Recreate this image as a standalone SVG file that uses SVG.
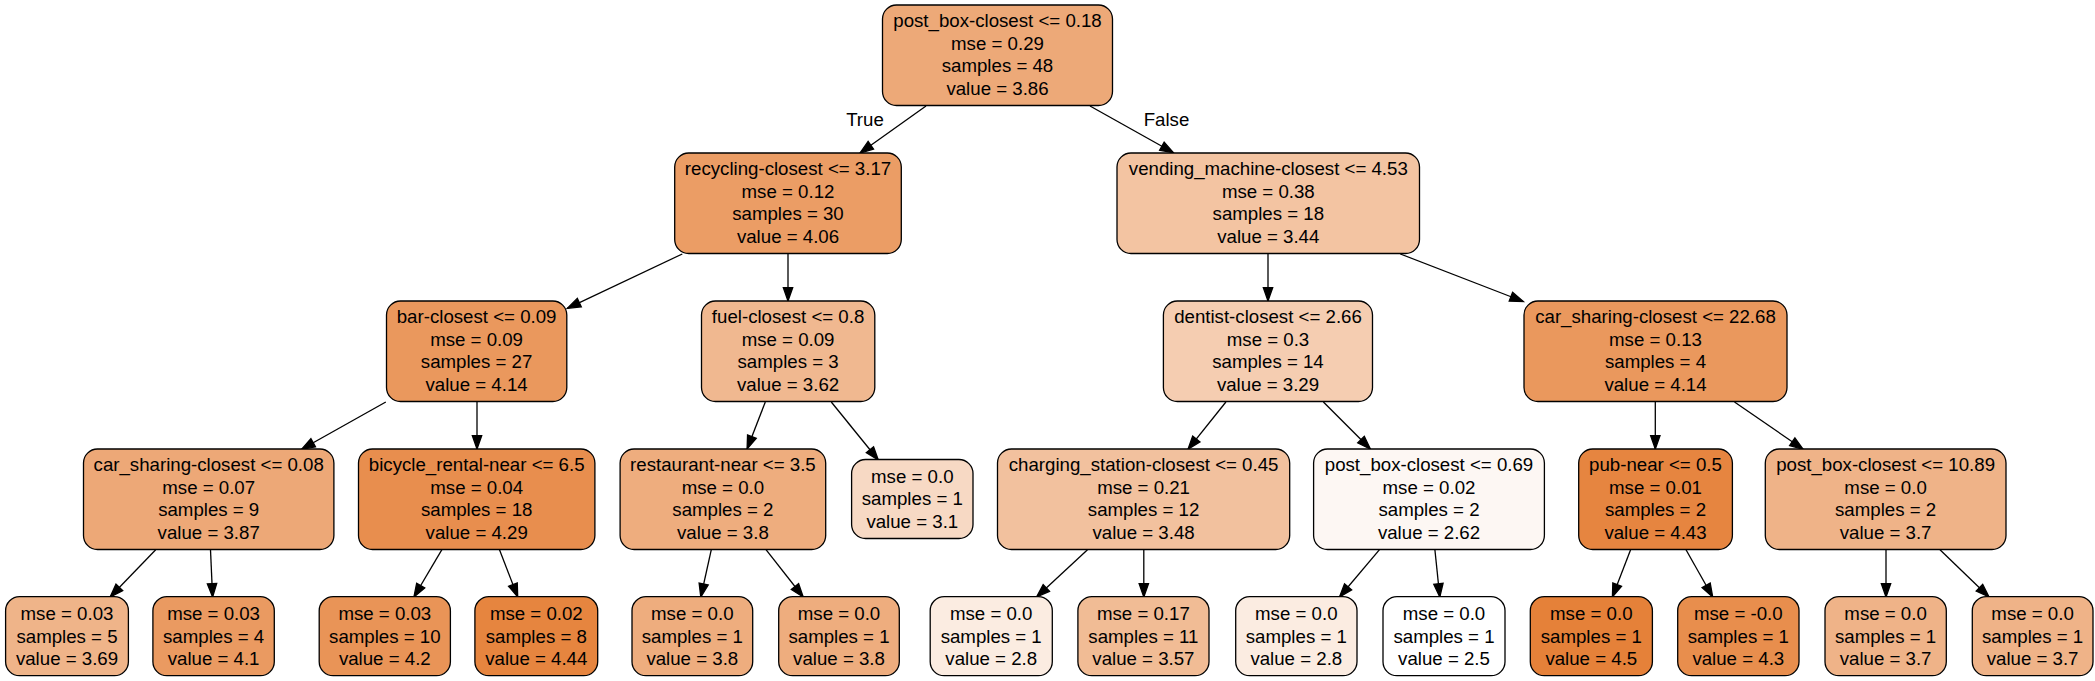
<svg xmlns="http://www.w3.org/2000/svg" width="2095" height="681" viewBox="0 0 2095 681">
<style>
.n rect{stroke:#000;stroke-width:1.3}
text{font-family:"Liberation Sans",Arial,Helvetica,sans-serif;font-size:18.67px;fill:#000;text-anchor:middle}
.e path{stroke:#000;stroke-width:1.3;fill:none;marker-end:url(#ah)}
</style>
<defs>
<marker id="ah" markerUnits="userSpaceOnUse" markerWidth="14" markerHeight="10" refX="13.3" refY="4.67" orient="auto" overflow="visible">
<path d="M0,0 L13.3,4.67 L0,9.34 z" fill="#000" stroke="#000" stroke-width="1.3"/>
</marker>
</defs>
<rect width="2095" height="681" fill="#fff"/>
<g id="connectors" class="e">
<path d="M926,106 L860,153"/>
<path d="M1090,106 L1173.5,152.7"/>
<path d="M682.3,254 L567.3,308.3"/>
<path d="M788,254 L788,301"/>
<path d="M1268,254 L1268,301"/>
<path d="M1400.3,254 L1523.3,301.5"/>
<path d="M385.8,402 L301.6,449.3"/>
<path d="M477,402 L477,449"/>
<path d="M765.3,402 L747.1,449"/>
<path d="M831.3,402 L878.3,460"/>
<path d="M1225.9,402 L1188,449.3"/>
<path d="M1323.4,402 L1370.4,449"/>
<path d="M1655.3,402 L1655.3,449"/>
<path d="M1734.5,402 L1803.2,449.3"/>
<path d="M155.7,549.7 L110.1,597"/>
<path d="M210.5,549.7 L212.6,597"/>
<path d="M441.9,549.7 L413.9,597"/>
<path d="M499.5,549.7 L517.7,597"/>
<path d="M711.3,549.7 L700.8,597"/>
<path d="M766,549.7 L803.2,597"/>
<path d="M1087.5,549.7 L1036.6,597"/>
<path d="M1143.8,549.7 L1143.8,597"/>
<path d="M1379.5,549.7 L1339.5,597"/>
<path d="M1434.9,549.7 L1439.8,597"/>
<path d="M1630.6,549.7 L1612.4,597"/>
<path d="M1686,549.7 L1712.7,597"/>
<path d="M1886,549.7 L1886,597"/>
<path d="M1940,549.7 L1989,597"/>
<text x="865" y="125.7">True</text>
<text x="1166.5" y="125.7">False</text>
</g>
<g id="n0" class="n"><rect x="882.5" y="5" width="230" height="100.5" rx="14" fill="#eda978"/><text x="997.5" y="27">post_box-closest &lt;= 0.18</text><text x="997.5" y="49.5">mse = 0.29</text><text x="997.5" y="72">samples = 48</text><text x="997.5" y="94.5">value = 3.86</text></g>
<g id="n1" class="n"><rect x="674.7" y="153" width="226.6" height="100.5" rx="14" fill="#eb9d65"/><text x="788" y="175">recycling-closest &lt;= 3.17</text><text x="788" y="197.5">mse = 0.12</text><text x="788" y="220">samples = 30</text><text x="788" y="242.5">value = 4.06</text></g>
<g id="n2" class="n"><rect x="1117" y="153" width="302.5" height="100.5" rx="14" fill="#f3c4a2"/><text x="1268.3" y="175">vending_machine-closest &lt;= 4.53</text><text x="1268.3" y="197.5">mse = 0.38</text><text x="1268.3" y="220">samples = 18</text><text x="1268.3" y="242.5">value = 3.44</text></g>
<g id="n3" class="n"><rect x="386.5" y="301" width="180.3" height="100.5" rx="14" fill="#ea985d"/><text x="476.6" y="323">bar-closest &lt;= 0.09</text><text x="476.6" y="345.5">mse = 0.09</text><text x="476.6" y="368">samples = 27</text><text x="476.6" y="390.5">value = 4.14</text></g>
<g id="n4" class="n"><rect x="701.5" y="301" width="173.3" height="100.5" rx="14" fill="#f0b890"/><text x="788.1" y="323">fuel-closest &lt;= 0.8</text><text x="788.1" y="345.5">mse = 0.09</text><text x="788.1" y="368">samples = 3</text><text x="788.1" y="390.5">value = 3.62</text></g>
<g id="n5" class="n"><rect x="1163.4" y="301" width="209.1" height="100.5" rx="14" fill="#f5cdb1"/><text x="1268" y="323">dentist-closest &lt;= 2.66</text><text x="1268" y="345.5">mse = 0.3</text><text x="1268" y="368">samples = 14</text><text x="1268" y="390.5">value = 3.29</text></g>
<g id="n6" class="n"><rect x="1524" y="301" width="263" height="100.5" rx="14" fill="#ea985d"/><text x="1655.5" y="323">car_sharing-closest &lt;= 22.68</text><text x="1655.5" y="345.5">mse = 0.13</text><text x="1655.5" y="368">samples = 4</text><text x="1655.5" y="390.5">value = 4.14</text></g>
<g id="n7" class="n"><rect x="83.5" y="449" width="250.4" height="100.5" rx="14" fill="#eda877"/><text x="208.7" y="471">car_sharing-closest &lt;= 0.08</text><text x="208.7" y="493.5">mse = 0.07</text><text x="208.7" y="516">samples = 9</text><text x="208.7" y="538.5">value = 3.87</text></g>
<g id="n8" class="n"><rect x="358.5" y="449" width="236.4" height="100.5" rx="14" fill="#e88e4e"/><text x="476.7" y="471">bicycle_rental-near &lt;= 6.5</text><text x="476.7" y="493.5">mse = 0.04</text><text x="476.7" y="516">samples = 18</text><text x="476.7" y="538.5">value = 4.29</text></g>
<g id="n9" class="n"><rect x="620.1" y="449" width="205.6" height="100.5" rx="14" fill="#eead7e"/><text x="722.9" y="471">restaurant-near &lt;= 3.5</text><text x="722.9" y="493.5">mse = 0.0</text><text x="722.9" y="516">samples = 2</text><text x="722.9" y="538.5">value = 3.8</text></g>
<g id="n10" class="n"><rect x="851.6" y="459.5" width="121.4" height="79" rx="14" fill="#f7d9c4"/><text x="912.3" y="482.5">mse = 0.0</text><text x="912.3" y="505">samples = 1</text><text x="912.3" y="527.5">value = 3.1</text></g>
<g id="n11" class="n"><rect x="997.5" y="449" width="292.2" height="100.5" rx="14" fill="#f2c19e"/><text x="1143.6" y="471">charging_station-closest &lt;= 0.45</text><text x="1143.6" y="493.5">mse = 0.21</text><text x="1143.6" y="516">samples = 12</text><text x="1143.6" y="538.5">value = 3.48</text></g>
<g id="n12" class="n"><rect x="1313.6" y="449" width="230.8" height="100.5" rx="14" fill="#fdf7f3"/><text x="1429" y="471">post_box-closest &lt;= 0.69</text><text x="1429" y="493.5">mse = 0.02</text><text x="1429" y="516">samples = 2</text><text x="1429" y="538.5">value = 2.62</text></g>
<g id="n13" class="n"><rect x="1578.7" y="449" width="153.7" height="100.5" rx="14" fill="#e68540"/><text x="1655.5" y="471">pub-near &lt;= 0.5</text><text x="1655.5" y="493.5">mse = 0.01</text><text x="1655.5" y="516">samples = 2</text><text x="1655.5" y="538.5">value = 4.43</text></g>
<g id="n14" class="n"><rect x="1765.3" y="449" width="240.7" height="100.5" rx="14" fill="#efb388"/><text x="1885.6" y="471">post_box-closest &lt;= 10.89</text><text x="1885.6" y="493.5">mse = 0.0</text><text x="1885.6" y="516">samples = 2</text><text x="1885.6" y="538.5">value = 3.7</text></g>
<g id="n15" class="n"><rect x="5.6" y="596.7" width="122.8" height="79" rx="14" fill="#efb489"/><text x="67" y="620">mse = 0.03</text><text x="67" y="642.5">samples = 5</text><text x="67" y="665">value = 3.69</text></g>
<g id="n16" class="n"><rect x="152.9" y="596.7" width="121.4" height="79" rx="14" fill="#ea9a61"/><text x="213.6" y="620">mse = 0.03</text><text x="213.6" y="642.5">samples = 4</text><text x="213.6" y="665">value = 4.1</text></g>
<g id="n17" class="n"><rect x="319.2" y="596.7" width="131.2" height="79" rx="14" fill="#e99457"/><text x="384.8" y="620">mse = 0.03</text><text x="384.8" y="642.5">samples = 10</text><text x="384.8" y="665">value = 4.2</text></g>
<g id="n18" class="n"><rect x="474.9" y="596.7" width="122.8" height="79" rx="14" fill="#e6853f"/><text x="536.3" y="620">mse = 0.02</text><text x="536.3" y="642.5">samples = 8</text><text x="536.3" y="665">value = 4.44</text></g>
<g id="n19" class="n"><rect x="632" y="596.7" width="120.7" height="79" rx="14" fill="#eead7e"/><text x="692.3" y="620">mse = 0.0</text><text x="692.3" y="642.5">samples = 1</text><text x="692.3" y="665">value = 3.8</text></g>
<g id="n20" class="n"><rect x="778.7" y="596.7" width="120.6" height="79" rx="14" fill="#eead7e"/><text x="839" y="620">mse = 0.0</text><text x="839" y="642.5">samples = 1</text><text x="839" y="665">value = 3.8</text></g>
<g id="n21" class="n"><rect x="930.2" y="596.7" width="122.1" height="79" rx="14" fill="#fbece1"/><text x="991.2" y="620">mse = 0.0</text><text x="991.2" y="642.5">samples = 1</text><text x="991.2" y="665">value = 2.8</text></g>
<g id="n22" class="n"><rect x="1077.9" y="596.7" width="131.1" height="79" rx="14" fill="#f1bc95"/><text x="1143.4" y="620">mse = 0.17</text><text x="1143.4" y="642.5">samples = 11</text><text x="1143.4" y="665">value = 3.57</text></g>
<g id="n23" class="n"><rect x="1235.7" y="596.7" width="121.3" height="79" rx="14" fill="#fbece1"/><text x="1296.3" y="620">mse = 0.0</text><text x="1296.3" y="642.5">samples = 1</text><text x="1296.3" y="665">value = 2.8</text></g>
<g id="n24" class="n"><rect x="1383" y="596.7" width="122" height="79" rx="14" fill="#ffffff"/><text x="1444" y="620">mse = 0.0</text><text x="1444" y="642.5">samples = 1</text><text x="1444" y="665">value = 2.5</text></g>
<g id="n25" class="n"><rect x="1530.3" y="596.7" width="122.1" height="79" rx="14" fill="#e58139"/><text x="1591.3" y="620">mse = 0.0</text><text x="1591.3" y="642.5">samples = 1</text><text x="1591.3" y="665">value = 4.5</text></g>
<g id="n26" class="n"><rect x="1677.7" y="596.7" width="121.3" height="79" rx="14" fill="#e88e4d"/><text x="1738.3" y="620">mse = -0.0</text><text x="1738.3" y="642.5">samples = 1</text><text x="1738.3" y="665">value = 4.3</text></g>
<g id="n27" class="n"><rect x="1825" y="596.7" width="121.3" height="79" rx="14" fill="#efb388"/><text x="1885.6" y="620">mse = 0.0</text><text x="1885.6" y="642.5">samples = 1</text><text x="1885.6" y="665">value = 3.7</text></g>
<g id="n28" class="n"><rect x="1972.3" y="596.7" width="120.7" height="79" rx="14" fill="#efb388"/><text x="2032.6" y="620">mse = 0.0</text><text x="2032.6" y="642.5">samples = 1</text><text x="2032.6" y="665">value = 3.7</text></g>
</svg>
